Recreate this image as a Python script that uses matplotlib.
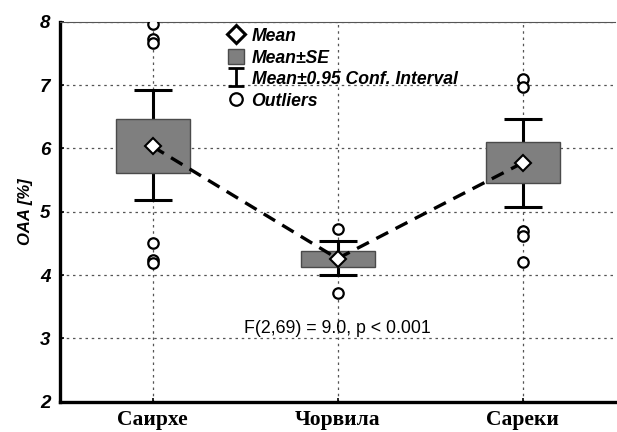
import matplotlib
matplotlib.use("Agg")
import matplotlib.pyplot as plt
from matplotlib.lines import Line2D
from matplotlib.patches import Patch
from matplotlib.path import Path

# data
groups = ['Саирхе', 'Чорвила', 'Сареки']
means = [6.03, 4.26, 5.77]
se_low = [5.61, 4.13, 5.46]
se_high = [6.47, 4.38, 6.10]
ci_low = [5.18, 4.00, 5.08]
ci_high = [6.92, 4.54, 6.47]
outliers = [[7.96, 7.72, 7.66, 4.50, 4.24, 4.19],
            [4.72, 3.72],
            [7.09, 6.97, 4.70, 4.62, 4.21]]
stat_text = 'F(2,69) = 9.0, p < 0.001'

fig = plt.figure(figsize=(6.17, 4.32), dpi=100)
ax = fig.add_axes([60/617, 1 - 401.7/432, 555/617, 380/432])

x = list(range(len(groups)))
box_w = 0.40

# grid
ax.grid(True, color='#555555', linestyle=(0, (2, 3)), linewidth=0.9)
ax.set_axisbelow(True)

for i in x:
    ax.bar(i, se_high[i] - se_low[i], bottom=se_low[i], width=box_w,
           color='#7f7f7f', edgecolor='#4a4a4a', linewidth=1, zorder=2)
ax.errorbar(x, means, yerr=[[m - l for m, l in zip(means, ci_low)],
                            [h - m for m, h in zip(means, ci_high)]],
            fmt='none', ecolor='black', elinewidth=2.2, capsize=13.5,
            capthick=2.2, zorder=1.5)

ax.plot(x, means, color='black', linestyle=(0, (4, 2.5)), linewidth=2.4, zorder=3)
ax.plot(x, means, linestyle='none', marker='D', markersize=8.5,
        markerfacecolor='white', markeredgecolor='black', markeredgewidth=1.5,
        zorder=4)

for i, vals in enumerate(outliers):
    ax.plot([i] * len(vals), vals, linestyle='none', marker='o', markersize=7.5,
            markerfacecolor='white', markeredgecolor='black',
            markeredgewidth=1.6, zorder=4)

ax.text(1, 3.16, stat_text, ha='center', va='center', fontsize=12.8,
        family='Liberation Sans')

ax.set_xlim(-0.5, 2.5)
ax.set_ylim(2, 8)
ax.set_xticks(x)
ax.set_xticklabels(groups, family='Liberation Serif', fontweight='bold',
                   fontsize=15.5)
ax.set_yticks(range(2, 9))
ax.set_yticklabels([str(v) for v in range(2, 9)], family='Liberation Sans',
                   fontweight='bold', fontstyle='italic', fontsize=13.5)
ax.tick_params(axis='both', direction='in', length=3, width=1.2)
ax.tick_params(axis='x', pad=6)
ax.tick_params(axis='y', pad=7)
ax.set_ylabel('OAA [%]', family='Liberation Sans', fontweight='bold',
              fontstyle='italic', fontsize=12, labelpad=5)

for s in ['left', 'bottom']:
    ax.spines[s].set_linewidth(2.4)
ax.spines['top'].set_linewidth(0.8)
ax.spines['top'].set_color('#555555')
ax.spines['right'].set_visible(False)

whisker = Path([(-0.9, 1), (0.9, 1), (0, 1), (0, -1), (-0.9, -1), (0.9, -1)],
               [Path.MOVETO, Path.LINETO, Path.MOVETO, Path.LINETO,
                Path.MOVETO, Path.LINETO])
handles = [
    Line2D([], [], linestyle='none', marker='D', markersize=9.5,
           markerfacecolor='white', markeredgecolor='black', markeredgewidth=2.2),
    Patch(facecolor='#7f7f7f', edgecolor='#4a4a4a'),
    Line2D([], [], linestyle='none', marker=whisker, markersize=13,
           markerfacecolor='none', markeredgecolor='black', markeredgewidth=2),
    Line2D([], [], linestyle='none', marker='o', markersize=9,
           markerfacecolor='white', markeredgecolor='black', markeredgewidth=1.6),
]
labels = ['Mean', 'Mean±SE', 'Mean±0.95 Conf. Interval', 'Outliers']
ax.legend(handles, labels, loc='upper left', bbox_to_anchor=(0.28, 1.018),
          frameon=False, handlelength=0.9, handleheight=1.0, handletextpad=0.45,
          labelspacing=0.2, borderpad=0.2,
          prop={'family': 'Liberation Sans', 'weight': 'bold',
                'style': 'italic', 'size': 12.7})

fig.savefig('out.png', dpi=100)
